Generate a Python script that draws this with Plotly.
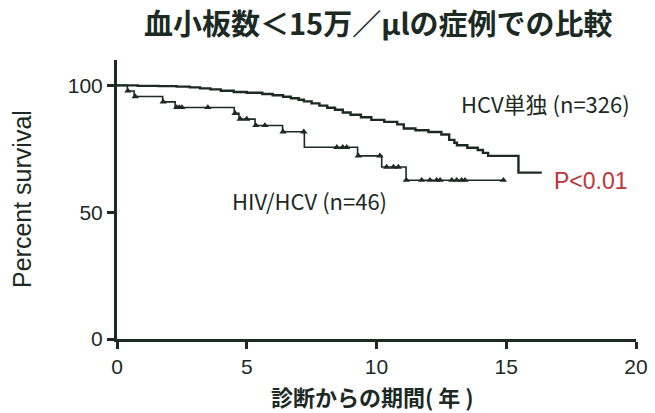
import plotly.graph_objects as go
import numpy as np

# HCV alone (n=326): step times (years) and survival (%)
hcv_t = [0, 0.8, 1.6, 2.3, 2.8, 3.2, 3.6, 4.0, 4.5, 5.0, 5.6, 6.0, 6.4, 6.7, 7.0, 7.2, 7.5, 7.8,
         8.1, 8.4, 8.7, 9.0, 9.4, 9.8, 10.3, 10.8, 11.05, 11.5, 12.0, 12.5, 12.8, 13.0, 13.1, 13.5,
         13.9, 14.1, 14.3, 15.47, 16.37]
hcv_s = [100, 99.8, 99.7, 99.5, 99.2, 98.8, 98.4, 97.9, 97.4, 97.1, 96.6, 96.1, 95.5, 94.9, 94.3,
         93.7, 92.9, 92.0, 91.2, 90.4, 89.3, 88.4, 87.4, 86.4, 85.6, 84.6, 83.0, 82.3, 81.6, 80.6,
         78.5, 77.4, 76.4, 75.4, 74.5, 73.4, 72.2, 65.6, 65.6]

# HIV/HCV (n=46)
hiv_t = [0, 0.40, 0.66, 1.76, 2.24, 4.52, 4.70, 5.32, 6.38, 7.22, 9.27, 10.2, 11.14, 14.9]
hiv_s = [100, 97.8, 95.6, 93.5, 91.3, 89.0, 86.7, 84.2, 81.7, 75.6, 72.2, 67.8, 62.6, 62.6]
hiv_censor = [0.42, 0.7, 1.78, 2.3, 2.4, 2.5, 3.5, 4.55, 4.75, 5.0, 5.35, 5.7, 6.4, 7.2, 8.47,
              8.7, 8.85, 9.3, 10.13, 10.39, 10.65, 10.84, 11.15, 11.74, 12.06, 12.32, 12.45,
              12.9, 13.09, 13.28, 13.41, 14.89]

x_ticks = [0, 5, 10, 15, 20]
y_ticks = [0, 50, 100]

title_text = "血小板数＜15万／μlの症例での比較"
x_title = "診断からの期間( 年 )"
y_title = "Percent survival"
label_hcv = "HCV単独 (n=326)"
label_hiv = "HIV/HCV (n=46)"
label_p = "P<0.01"

ink = "#1b2a23"

def step_val(t_arr, s_arr, t):
    idx = np.searchsorted(np.array(t_arr), t, side="right") - 1
    return s_arr[max(idx, 0)]

hiv_cy = [step_val(hiv_t, hiv_s, t) for t in hiv_censor]

fig = go.Figure()
fig.add_trace(go.Scatter(x=hcv_t, y=hcv_s, mode="lines", line=dict(shape="hv", color=ink, width=2.4),
                         showlegend=False))
fig.add_trace(go.Scatter(x=hiv_t, y=hiv_s, mode="lines", line=dict(shape="hv", color=ink, width=1.6),
                         showlegend=False))
fig.add_trace(go.Scatter(x=hiv_censor, y=hiv_cy, mode="markers",
                         marker=dict(symbol="triangle-up", size=6.5, color=ink), showlegend=False))

font_num = "Liberation Sans, Arial, sans-serif"
font_cjk = "Noto Sans CJK JP, sans-serif"

fig.update_layout(
    width=655, height=413,
    margin=dict(l=117, r=19, t=60, b=74),
    paper_bgcolor="white", plot_bgcolor="white",
    xaxis=dict(range=[0, 20], tickvals=x_ticks, showline=True, linewidth=3, linecolor=ink,
               ticks="outside", ticklen=7, tickwidth=3, tickcolor=ink, showgrid=False, zeroline=False,
               automargin=False, tickfont=dict(family=font_num, size=21, color=ink)),
    yaxis=dict(range=[0, 110], tickvals=y_ticks, showline=True, linewidth=3, linecolor=ink,
               ticks="outside", ticklen=7, tickwidth=3, tickcolor=ink, showgrid=False, zeroline=False,
               automargin=False, tickfont=dict(family=font_num, size=21, color=ink)),
)

# titles as annotations (pixel-tuned positions in paper coords)
fig.add_annotation(xref="paper", yref="paper", x=(378 - 117) / 519, y=(339 - 22) / 279,
                   text="<b>" + title_text + "</b>", showarrow=False, xanchor="center", yanchor="middle",
                   font=dict(family=font_cjk, size=29, color=ink))
fig.add_annotation(xref="paper", yref="paper", x=(372 - 117) / 519, y=(339 - 396) / 279,
                   text="<b>" + x_title + "</b>", showarrow=False, xanchor="center", yanchor="middle",
                   font=dict(family=font_cjk, size=22, color=ink))
fig.add_annotation(xref="paper", yref="paper", x=(22 - 117) / 519, y=(339 - 199) / 279,
                   text=y_title, textangle=-90, showarrow=False, xanchor="center", yanchor="middle",
                   font=dict(family=font_num, size=25, color=ink))

fig.add_annotation(x=16.5, y=92.9, text=label_hcv, showarrow=False, xanchor="center", yanchor="middle",
                   font=dict(family=font_cjk, size=22, color=ink))
fig.add_annotation(x=7.4, y=54.7, text=label_hiv, showarrow=False, xanchor="center", yanchor="middle",
                   font=dict(family=font_cjk, size=22, color=ink))
fig.add_annotation(x=18.27, y=62.2, text=label_p, showarrow=False, xanchor="center", yanchor="middle",
                   font=dict(family=font_num, size=23, color="#c0323c"))

fig.write_html("out.html", config={"displayModeBar": False},
               post_script="document.body.style.margin='0';document.body.style.overflow='hidden';")
